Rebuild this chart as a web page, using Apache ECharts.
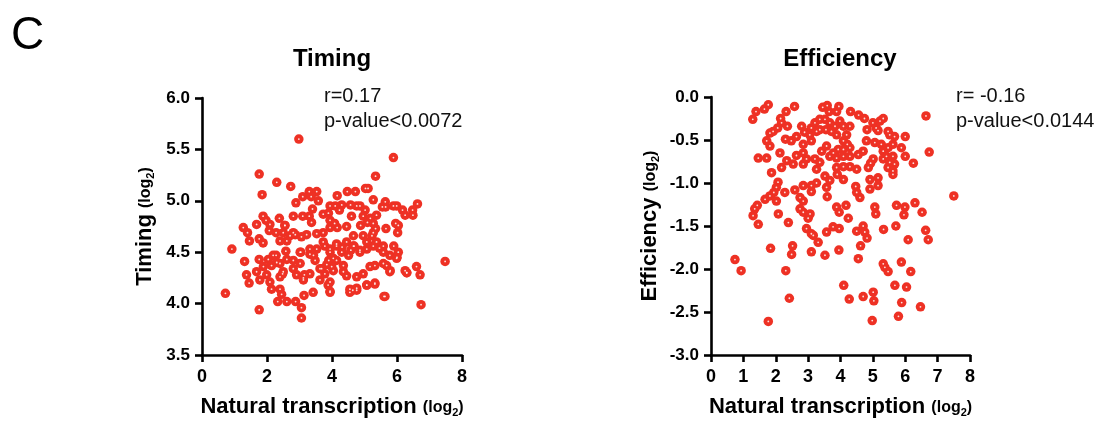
<!DOCTYPE html>
<html>
<head>
<meta charset="utf-8">
<script src="https://cdn.jsdelivr.net/npm/echarts@6/dist/echarts.min.js"></script>
<style>
  html, body { margin: 0; padding: 0; background: #fff; }
  #chart { width: 1097px; height: 423px; }
</style>
</head>
<body>
<div id="chart"></div>
<script>
// Natural transcription (log2) vs. timing (log2)
const timingPoints = [
  [2.98,5.60],[5.89,5.42],[1.76,5.26],[5.34,5.24],[2.30,5.18],[2.73,5.14],[1.85,5.06],[3.30,5.09],[3.53,5.09],[3.10,5.04],
  [3.36,5.04],[3.58,5.00],[2.89,4.98],[4.16,5.05],[4.47,5.09],[4.72,5.09],[5.03,5.12],[5.11,5.12],[5.27,5.01],[5.64,4.99],
  [5.65,4.94],[5.89,4.95],[5.99,4.95],[6.17,4.91],[6.48,4.91],[6.63,4.97],[6.49,4.86],[6.25,4.86],[5.37,4.86],[5.55,4.94],
  [4.76,4.95],[4.86,4.95],[5.02,4.91],[4.96,4.85],[4.88,4.76],[5.09,4.79],[5.18,4.83],[5.27,4.78],[5.34,4.73],[5.66,4.73],
  [5.96,4.78],[6.02,4.69],[4.60,4.85],[4.57,4.96],[4.30,4.96],[4.23,4.91],[4.10,4.95],[3.94,4.95],[3.89,4.88],[3.73,4.87],
  [3.94,4.81],[4.08,4.78],[4.16,4.74],[3.94,4.74],[3.73,4.69],[4.45,4.75],[4.66,4.66],[4.96,4.66],[5.23,4.66],[5.37,4.60],
  [5.58,4.56],[5.90,4.56],[6.04,4.50],[5.99,4.44],[5.78,4.47],[5.58,4.50],[5.46,4.54],[5.27,4.56],[5.07,4.53],[4.86,4.50],
  [4.68,4.56],[4.58,4.52],[4.45,4.60],[4.31,4.55],[4.14,4.56],[3.94,4.50],[3.78,4.56],[3.53,4.53],[3.32,4.48],[3.48,4.42],
  [3.90,4.42],[4.14,4.42],[4.35,4.37],[4.04,4.32],[3.68,4.34],[3.32,4.29],[3.04,4.50],[2.87,4.67],[3.06,4.65],[3.22,4.67],
  [3.53,4.68],[3.37,4.79],[3.30,4.85],[3.10,4.85],[3.40,4.92],[2.81,4.85],[2.38,4.83],[2.55,4.76],[2.09,4.77],[1.97,4.81],
  [1.68,4.77],[1.88,4.85],[2.07,4.71],[2.28,4.69],[2.50,4.69],[2.71,4.66],[2.61,4.61],[2.40,4.61],[1.27,4.74],[1.40,4.69],
  [1.46,4.61],[1.76,4.63],[1.88,4.59],[0.92,4.53],[1.31,4.41],[1.76,4.43],[2.04,4.43],[2.28,4.47],[2.58,4.51],[2.81,4.42],
  [3.02,4.39],[2.40,4.39],[2.14,4.37],[2.50,4.31],[1.68,4.31],[1.37,4.28],[1.99,4.28],[3.15,4.28],[2.61,4.43],[5.32,4.37],
  [5.68,4.37],[6.25,4.32],[6.60,4.36],[7.48,4.41],[1.45,4.20],[1.78,4.23],[1.89,4.36],[2.09,4.21],[2.14,4.14],[2.40,4.26],
  [2.48,4.29],[2.40,4.14],[2.45,4.09],[2.33,4.02],[2.61,4.02],[2.88,4.02],[3.06,3.96],[3.06,3.86],[3.14,4.08],[3.12,4.23],
  [2.91,4.28],[2.81,4.34],[3.42,4.11],[3.63,4.23],[3.78,4.29],[3.94,4.21],[3.94,4.11],[3.88,4.18],[3.99,4.36],[4.35,4.31],
  [4.45,4.27],[4.55,4.11],[4.64,4.13],[4.76,4.13],[4.76,4.26],[4.96,4.29],[5.07,4.18],[5.32,4.19],[5.17,4.36],[5.60,4.07],
  [5.78,4.31],[6.30,4.30],[6.71,4.28],[6.74,3.99],[0.72,4.10],[1.76,3.94],[5.58,4.39],[3.73,4.60],[3.94,4.53],[4.14,4.58],
  [4.30,4.50],[4.04,4.44],[3.84,4.38],[3.63,4.34],[4.51,4.47],[4.66,4.56],[4.86,4.52],[5.07,4.60],[5.27,4.69],[3.32,4.53],
  [3.43,4.47],[3.02,4.50],[2.55,4.76],[2.81,4.69],[2.19,4.47],[2.30,4.40],[3.12,4.25],[3.94,4.12],[4.55,4.14],[4.76,4.15],
  [5.07,4.18],[5.32,4.20],[5.63,4.07],[5.79,4.32],[6.00,4.45],[6.04,4.76],[6.30,4.30]
];

// Natural transcription (log2) vs. efficiency (log2)
const efficiencyPoints = [
  [0.74,-1.89],[0.93,-2.02],[1.29,-0.26],[1.39,-0.17],[1.65,-0.14],[1.77,-0.09],[2.32,-0.17],[2.58,-0.11],[3.45,-0.12],[3.59,-0.10],
  [3.95,-0.11],[3.65,-0.17],[3.88,-0.17],[4.31,-0.17],[4.56,-0.21],[4.74,-0.25],[5.32,-0.25],[6.64,-0.22],[6.74,-0.64],[2.15,-0.25],
  [2.18,-0.30],[2.06,-0.36],[1.92,-0.40],[1.82,-0.42],[1.72,-0.51],[1.82,-0.57],[2.36,-0.34],[2.30,-0.49],[2.48,-0.51],[2.64,-0.46],
  [2.80,-0.34],[2.89,-0.41],[3.10,-0.36],[3.21,-0.30],[3.36,-0.26],[3.52,-0.26],[3.67,-0.30],[3.83,-0.34],[3.98,-0.28],[4.09,-0.34],
  [4.29,-0.34],[4.19,-0.44],[3.88,-0.44],[3.05,-0.44],[3.10,-0.51],[2.85,-0.55],[3.26,-0.40],[3.36,-0.38],[3.55,-0.38],[3.72,-0.40],
  [4.09,-0.51],[4.21,-0.55],[4.29,-0.59],[4.09,-0.61],[3.93,-0.61],[3.78,-0.65],[3.67,-0.69],[3.88,-0.71],[4.09,-0.69],[4.29,-0.69],
  [4.55,-0.67],[4.70,-0.63],[4.80,-0.51],[4.82,-0.38],[5.00,-0.30],[5.10,-0.36],[5.22,-0.28],[5.16,-0.39],[5.47,-0.40],[5.52,-0.44],
  [5.67,-0.46],[6.00,-0.46],[5.06,-0.53],[5.26,-0.55],[5.47,-0.59],[5.62,-0.55],[5.88,-0.59],[5.32,-0.63],[5.42,-0.69],[5.62,-0.69],
  [5.32,-0.72],[5.52,-0.76],[5.67,-0.78],[5.47,-0.82],[5.62,-0.86],[5.62,-0.90],[6.00,-0.69],[6.25,-0.77],[4.93,-0.77],[5.01,-0.72],
  [4.86,-0.82],[4.50,-0.84],[4.29,-0.81],[4.09,-0.81],[3.88,-0.82],[3.90,-0.90],[3.52,-0.92],[3.26,-0.84],[3.21,-0.72],[3.36,-0.76],
  [2.95,-0.72],[2.85,-0.78],[2.54,-0.78],[2.34,-0.74],[2.18,-0.82],[1.87,-0.88],[1.72,-0.71],[1.46,-0.71],[2.13,-0.65],[2.64,-0.68],
  [2.85,-0.65],[3.57,-0.57],[3.42,-0.63],[3.67,-0.97],[4.09,-0.96],[4.47,-1.04],[4.50,-1.11],[4.60,-1.17],[4.91,-0.96],[5.16,-0.94],
  [4.91,-1.07],[5.16,-1.03],[3.57,-1.05],[3.59,-1.16],[3.26,-1.00],[3.10,-1.03],[2.85,-1.03],[3.10,-1.10],[2.59,-1.08],[2.28,-1.11],
  [2.07,-0.99],[2.02,-1.05],[1.94,-1.11],[1.82,-1.15],[1.67,-1.19],[2.02,-1.21],[2.75,-1.17],[2.85,-1.21],[1.43,-1.26],[1.35,-1.30],
  [1.30,-1.38],[1.46,-1.48],[2.08,-1.36],[2.39,-1.46],[2.75,-1.30],[2.85,-1.34],[3.00,-1.41],[3.06,-1.36],[3.88,-1.28],[3.96,-1.34],
  [4.17,-1.26],[4.24,-1.41],[3.77,-1.51],[3.96,-1.53],[2.95,-1.53],[3.10,-1.59],[3.57,-1.57],[3.16,-1.61],[3.31,-1.69],[4.50,-1.56],
  [4.70,-1.50],[4.75,-1.57],[4.82,-1.64],[5.06,-1.28],[5.09,-1.36],[5.73,-1.26],[5.99,-1.28],[5.96,-1.37],[6.30,-1.23],[6.52,-1.34],
  [5.71,-1.50],[5.33,-1.54],[6.63,-1.55],[6.71,-1.66],[6.09,-1.66],[4.62,-1.73],[1.84,-1.76],[2.52,-1.73],[2.49,-1.83],[3.10,-1.80],
  [3.52,-1.84],[3.95,-1.78],[4.55,-1.88],[2.31,-2.02],[5.32,-1.94],[5.37,-1.98],[5.47,-2.03],[5.88,-1.92],[6.17,-2.03],[7.50,-1.15],
  [4.10,-2.19],[4.27,-2.35],[4.70,-2.32],[5.01,-2.27],[5.03,-2.37],[4.98,-2.60],[2.42,-2.34],[1.77,-2.61],[5.68,-2.19],[6.04,-2.21],
  [5.89,-2.39],[5.79,-2.55],[6.47,-2.44]
];

const panelTitles = ['Timing', 'Efficiency'];
const yNames = ['Timing', 'Efficiency'];
const xName = 'Natural transcription';
const statsLines = [['r=0.17', 'p-value<0.0072'], ['r= -0.16', 'p-value<0.0144']];

const FONT = '"Liberation Sans", Arial, Helvetica, sans-serif';
const RED = '#ee3124';

const nameRich = {
  n: { fontSize: 22, fontWeight: 'bold', color: '#000', fontFamily: FONT },
  l: { fontSize: 16, fontWeight: 'bold', color: '#000', fontFamily: FONT, padding: [3, 0, 0, 0] },
  s: { fontSize: 11, fontWeight: 'bold', color: '#000', fontFamily: FONT, padding: [12, 0, 0, 0] }
};
function axisName(label) {
  return '{n|' + label + ' }{l|(log}{s|2}{l|)}';
}

function xAxisCfg(gridIndex, interval) {
  return {
    type: 'value', gridIndex: gridIndex, min: 0, max: 8, interval: interval,
    name: axisName(xName), nameLocation: 'middle', nameGap: 40,
    nameTextStyle: { rich: nameRich },
    axisLine: { show: true, onZero: false, lineStyle: { color: '#000', width: 2.6 } },
    axisTick: { show: true, inside: false, length: 7, lineStyle: { color: '#000', width: 2.6 } },
    axisLabel: { color: '#000', fontSize: 18, fontWeight: 'bold', fontFamily: FONT, margin: 13 },
    splitLine: { show: false }
  };
}
function yAxisCfg(gridIndex, min, max, label, gap) {
  return {
    type: 'value', gridIndex: gridIndex, min: min, max: max, interval: 0.5,
    name: axisName(label), nameLocation: 'middle', nameGap: gap, nameRotate: 90,
    nameTextStyle: { rich: nameRich },
    axisLine: { show: true, onZero: false, lineStyle: { color: '#000', width: 2.6 } },
    axisTick: { show: true, inside: false, length: 7, lineStyle: { color: '#000', width: 2.6 } },
    axisLabel: { color: '#000', fontSize: 17, fontWeight: 'bold', fontFamily: FONT, margin: 12,
                 formatter: v => v.toFixed(1) },
    splitLine: { show: false }
  };
}
function dotSeries(idx, data) {
  return [
    { type: 'scatter', xAxisIndex: idx, yAxisIndex: idx, data: data, symbol: 'circle', symbolSize: 9.5,
      itemStyle: { color: RED, opacity: 1 }, silent: true, animation: false },
    { type: 'scatter', xAxisIndex: idx, yAxisIndex: idx, data: data, symbol: 'circle', symbolSize: 1.8,
      itemStyle: { color: '#fff', opacity: 0.85 }, silent: true, animation: false }
  ];
}
function statsText(x, lines) {
  return lines.map((t, i) => ({
    type: 'text', left: x, top: 86 + i * 25,
    style: { text: t, fontSize: 20, fontFamily: FONT, fill: '#111' }
  }));
}

const chart = echarts.init(document.getElementById('chart'), null, { renderer: 'canvas' });
chart.setOption({
  backgroundColor: '#fff',
  animation: false,
  title: [
    { text: 'C', left: 6, top: 8, textStyle: { fontSize: 46, fontWeight: 'normal', color: '#000', fontFamily: FONT } },
    { text: panelTitles[0], left: 327, top: 42, textAlign: 'center',
      textStyle: { fontSize: 24, fontWeight: 'bold', color: '#000', fontFamily: FONT } },
    { text: panelTitles[1], left: 835, top: 42, textAlign: 'center',
      textStyle: { fontSize: 24, fontWeight: 'bold', color: '#000', fontFamily: FONT } }
  ],
  grid: [
    { left: 202, top: 98, width: 260, height: 259 },
    { left: 711, top: 97, width: 259, height: 260 }
  ],
  xAxis: [xAxisCfg(0, 2), xAxisCfg(1, 1)],
  yAxis: [yAxisCfg(0, 3.5, 6, yNames[0], 46), yAxisCfg(1, -3, 0, yNames[1], 50)],
  series: [...dotSeries(0, timingPoints), ...dotSeries(1, efficiencyPoints)],
  graphic: [...statsText(324, statsLines[0]), ...statsText(956, statsLines[1])]
});
</script>
</body>
</html>
